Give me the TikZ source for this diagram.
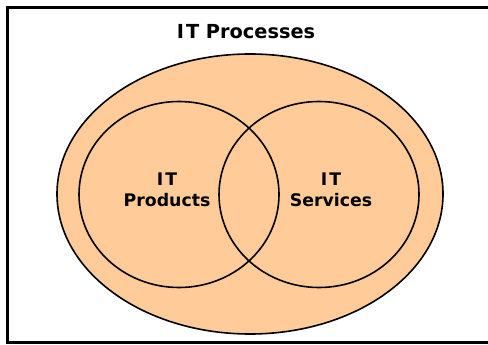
\documentclass[tikz,border=0pt]{standalone}
\usepackage{fontspec}
\setsansfont{DejaVu Sans}
\usetikzlibrary{shapes.geometric}
\definecolor{peach}{HTML}{FFCC99}

\begin{document}
\begin{tikzpicture}[x=0.75pt,y=-0.75pt,
    set/.style={ellipse,draw,line width=1.2pt,inner sep=0pt,outer sep=0pt},
    subset/.style={set,minimum width=150pt,minimum height=139.5pt},
    setname/.style={font=\sffamily\bfseries\fontsize{13}{15.75}\selectfont,align=center}]
  \useasboundingbox (0,0) rectangle (488,345);
  \draw[line width=1.6pt] (489,7.5) -- (7.5,7.5) -- (7.5,342.5) -- (489,342.5);

  \node[set,fill=peach,minimum width=289.5pt,minimum height=210pt] (proc) at (250,194) {};
  \node[subset] (prod) at (179,194.5) {};
  \node[subset] (serv) at (319,194.5) {};

  \node[setname,font=\sffamily\bfseries\fontsize{14.5}{17}\selectfont] (proc-label) at (246,32) {I\kern1.5pt T Processes};
  \node[setname] (prod-label) at (167,190) {I\kern1.5pt T\\Products};
  \node[setname] (serv-label) at (331,190) {I\kern1.5pt T\\Services};
\end{tikzpicture}
\end{document}
